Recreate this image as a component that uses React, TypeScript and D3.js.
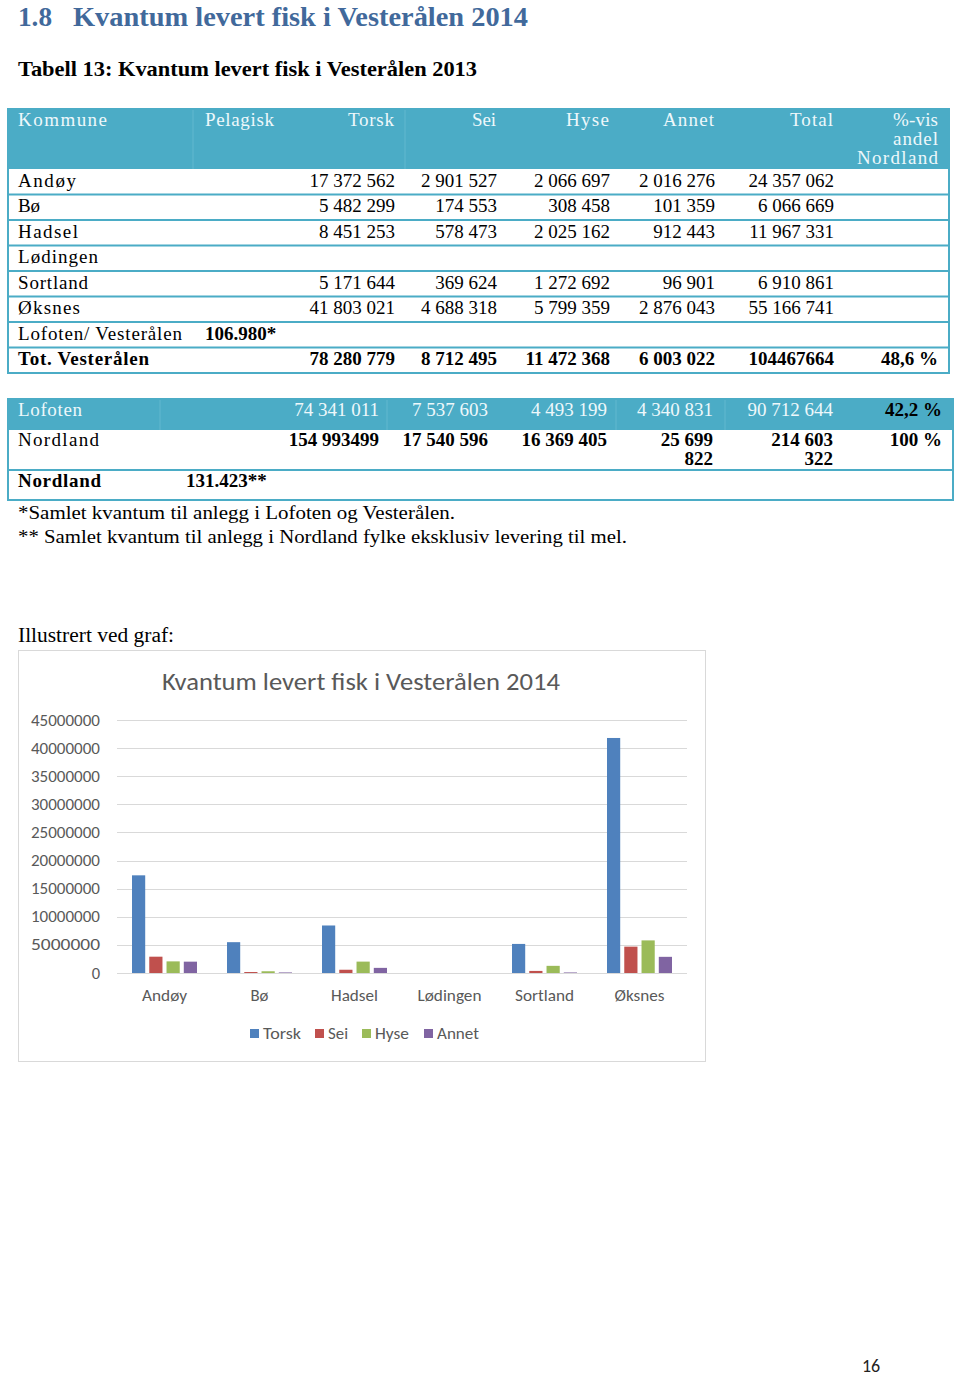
import React from 'react';
import * as d3 from 'd3';

// ---------- DATA ----------
const kommuner = ['Andøy', 'Bø', 'Hadsel', 'Lødingen', 'Sortland', 'Øksnes'];
const torsk = [17372562, 5482299, 8451253, 0, 5171644, 41803021];
const sei = [2901527, 174553, 578473, 0, 369624, 4688318];
const hyse = [2066697, 308458, 2025162, 0, 1272692, 5799359];
const annet = [2016276, 101359, 912443, 0, 96901, 2876043];
const total = [24357062, 6066669, 11967331, 0, 6910861, 55166741];
const series = ['Torsk', 'Sei', 'Hyse', 'Annet'];
const seriesColors = ['#4F81BD', '#C0504D', '#9BBB59', '#8064A2'];
const yMax = 45000000;

const headerCols = ['Torsk', 'Sei', 'Hyse', 'Annet', 'Total'];
const extraRows = ['Lofoten/ Vesterålen', 'Tot. Vesterålen'];
const lofVestPelagisk = '106.980*';
const totRow = ['78 280 779', '8 712 495', '11 472 368', '6 003 022', '104467664'];
const totPct = '48,6 %';
const lofotenRow = ['74 341 011', '7 537 603', '4 493 199', '4 340 831', '90 712 644'];
const lofotenPct = '42,2 %';
const nordlandRow = [['154 993499'], ['17 540 596'], ['16 369 405'], ['25 699', '822'], ['214 603', '322']];
const nordlandPct = '100 %';
const nordlandPelagisk = '131.423**';
const footnotes = [
  '*Samlet kvantum til anlegg i Lofoten og Vesterålen.',
  '** Samlet kvantum til anlegg i Nordland fylke eksklusiv levering til mel.',
];

// ---------- LAYOUT ----------
const SERIF = '"Liberation Serif", "Times New Roman", serif';
const SANS = 'Carlito, Lato, "Open Sans", sans-serif';
const TEAL = '#4BACC6';
const HEAD_TXT = '#eef8fb';
const labelW1 = [58, 22, 60, 80, 70, 62, 164, 131];
const colRight1 = [395, 497, 610, 715, 834];
const headerW1 = [46, 24, 43, 51, 43];
const colRight2 = [379, 488, 607, 713, 833];
const xLabelW = [45, 18, 47, 64, 59, 50];

const fmt = (v: number) => (v ? d3.format(',')(v).replace(/,/g, ' ') : '');

function T(p: any) {
  const { x, y, children, anchor = 'start', size = 19, weight, fill = '#000', family = SERIF, w, adjust } = p;
  return (
    <text
      x={x}
      y={y}
      textAnchor={anchor}
      fontSize={size}
      fontWeight={weight}
      fill={fill}
      fontFamily={family}
      textLength={w}
      lengthAdjust={w ? adjust || 'spacingAndGlyphs' : undefined}
    >
      {children}
    </text>
  );
}

export default function App() {
  // table 1 geometry
  const t1Top = 109;
  const t1HeadBot = 169;
  const rowH = 25.5;
  const nRows1 = kommuner.length + extraRows.length;
  const t1Bot = t1HeadBot + nRows1 * rowH;
  const rowLabels1 = [...kommuner, ...extraRows];

  // chart scales
  const y = d3.scaleLinear().domain([0, yMax]).range([973, 720]);
  const x0 = d3.scaleBand<string>().domain(kommuner).range([117, 687]);
  const x1 = d3.scaleBand<string>().domain(series).range([15, 80]).paddingInner(0.235);
  const ticks = y.ticks(9);
  const values = [torsk, sei, hyse, annet];
  const legendX = [250, 315, 362, 424];
  const legendW = [38, 20, 34, 42];

  return (
    <svg width={960} height={1377} style={{ position: 'absolute', left: 0, top: 0 }}>
      <rect width={960} height={1377} fill="#fff" />

      {/* Heading */}
      <T x={18} y={26} size={28} weight="bold" fill="#41699b" w={34}>1.8</T>
      <T x={73} y={26} size={28} weight="bold" fill="#41699b" w={455}>Kvantum levert fisk i Vesterålen 2014</T>
      <T x={18} y={76} size={22} weight="bold" w={459}>Tabell 13: Kvantum levert fisk i Vesterålen 2013</T>

      {/* Table 1 */}
      <rect x={8} y={t1Top} width={941} height={t1HeadBot - t1Top} fill={TEAL} />
      {[193, 405].map((lx) => (
        <line key={lx} x1={lx} x2={lx} y1={t1Top} y2={t1HeadBot} stroke="#62b8cf" strokeWidth={1} />
      ))}
      <T x={18} y={126} fill={HEAD_TXT} w={89} adjust="spacing">Kommune</T>
      <T x={205} y={126} fill={HEAD_TXT} w={69} adjust="spacing">Pelagisk</T>
      {headerCols.map((h, i) => (
        <T key={h} x={colRight1[i] - 1} y={126} anchor="end" fill={HEAD_TXT} w={headerW1[i]} adjust="spacing">{h}</T>
      ))}
      <T x={938} y={126} anchor="end" fill={HEAD_TXT} w={45} adjust="spacing">%-vis</T>
      <T x={938} y={145} anchor="end" fill={HEAD_TXT} w={45} adjust="spacing">andel</T>
      <T x={938} y={164} anchor="end" fill={HEAD_TXT} w={81} adjust="spacing">Nordland</T>

      {rowLabels1.map((lab, i) => {
        const top = t1HeadBot + i * rowH;
        const bl = top + 17.5;
        const bold = i === nRows1 - 1;
        return (
          <g key={lab}>
            {i > 0 && <line x1={8} x2={949} y1={top} y2={top} stroke={TEAL} strokeWidth={2} />}
            <T x={18} y={bl} weight={bold ? 'bold' : undefined} w={labelW1[i]} adjust="spacing">{lab}</T>
            {i < kommuner.length &&
              [torsk[i], sei[i], hyse[i], annet[i], total[i]].map((v, j) => (
                <T key={j} x={colRight1[j]} y={bl} anchor="end">{fmt(v)}</T>
              ))}
            {i === kommuner.length && <T x={205} y={bl} weight="bold">{lofVestPelagisk}</T>}
            {bold && totRow.map((s, j) => <T key={j} x={colRight1[j]} y={bl} anchor="end" weight="bold">{s}</T>)}
            {bold && <T x={938} y={bl} anchor="end" weight="bold">{totPct}</T>}
          </g>
        );
      })}
      <rect x={8} y={t1Top} width={941} height={t1Bot - t1Top} fill="none" stroke={TEAL} strokeWidth={2} />

      {/* Table 2 */}
      <rect x={8} y={399} width={945} height={31} fill={TEAL} />
      {[160, 387, 616, 725].map((lx) => (
        <line key={lx} x1={lx} x2={lx} y1={399} y2={430} stroke="#62b8cf" strokeWidth={1} />
      ))}
      <T x={18} y={416} fill={HEAD_TXT} w={64} adjust="spacing">Lofoten</T>
      {lofotenRow.map((s, j) => <T key={j} x={colRight2[j]} y={416} anchor="end" fill={HEAD_TXT}>{s}</T>)}
      <T x={942} y={416} anchor="end" weight="bold">{lofotenPct}</T>
      <T x={18} y={446} w={81} adjust="spacing">Nordland</T>
      {nordlandRow.map((lines, j) =>
        lines.map((s, k) => (
          <T key={j + '-' + k} x={colRight2[j]} y={446 + k * 19} anchor="end" weight="bold">{s}</T>
        ))
      )}
      <T x={942} y={446} anchor="end" weight="bold">{nordlandPct}</T>
      <line x1={8} x2={953} y1={470} y2={470} stroke={TEAL} strokeWidth={2} />
      <T x={18} y={487} weight="bold" w={83} adjust="spacing">Nordland</T>
      <T x={186} y={487} weight="bold">{nordlandPelagisk}</T>
      <rect x={8} y={399} width={945} height={101} fill="none" stroke={TEAL} strokeWidth={2} />

      {/* Footnotes */}
      <T x={18} y={519} w={437}>{footnotes[0]}</T>
      <T x={18} y={543} w={609}>{footnotes[1]}</T>
      <T x={18} y={642} size={20} w={156}>Illustrert ved graf:</T>

      {/* Chart */}
      <rect x={18.5} y={650.5} width={687} height={411} fill="#fff" stroke="#d9d9d9" strokeWidth={1} />
      <T x={361} y={690} anchor="middle" size={24} family={SANS} fill="#595959" w={398}>
        Kvantum levert fisk i Vesterålen 2014
      </T>
      {ticks.map((t) => (
        <g key={t}>
          <line x1={117} x2={687} y1={Math.round(y(t)) + 0.5} y2={Math.round(y(t)) + 0.5} stroke="#d9d9d9" strokeWidth={1} />
          <T x={100} y={y(t) + 5.5} anchor="end" size={16.5} family={SANS} fill="#595959" w={t === 0 ? undefined : 69}>
            {d3.format('d')(t)}
          </T>
        </g>
      ))}
      {kommuner.map((k, i) => (
        <g key={k} transform={`translate(${x0(k)},0)`}>
          {values.map((vals, s) =>
            vals[i] > 0 ? (
              <rect
                key={s}
                x={x1(series[s])}
                y={y(vals[i])}
                width={x1.bandwidth()}
                height={y(0) - y(vals[i])}
                fill={seriesColors[s]}
              />
            ) : null
          )}
          <T x={x0.bandwidth() / 2} y={1001} anchor="middle" size={16.5} family={SANS} fill="#595959" w={xLabelW[i]}>
            {k}
          </T>
        </g>
      ))}
      {series.map((s, i) => (
        <g key={s}>
          <rect x={legendX[i]} y={1029} width={9} height={9} fill={seriesColors[i]} />
          <T x={legendX[i] + 13} y={1039} size={16.5} family={SANS} fill="#595959" w={legendW[i]}>{s}</T>
        </g>
      ))}

      {/* Page number */}
      <T x={862} y={1372} size={18} family={SANS} fill="#222">16</T>
    </svg>
  );
}
